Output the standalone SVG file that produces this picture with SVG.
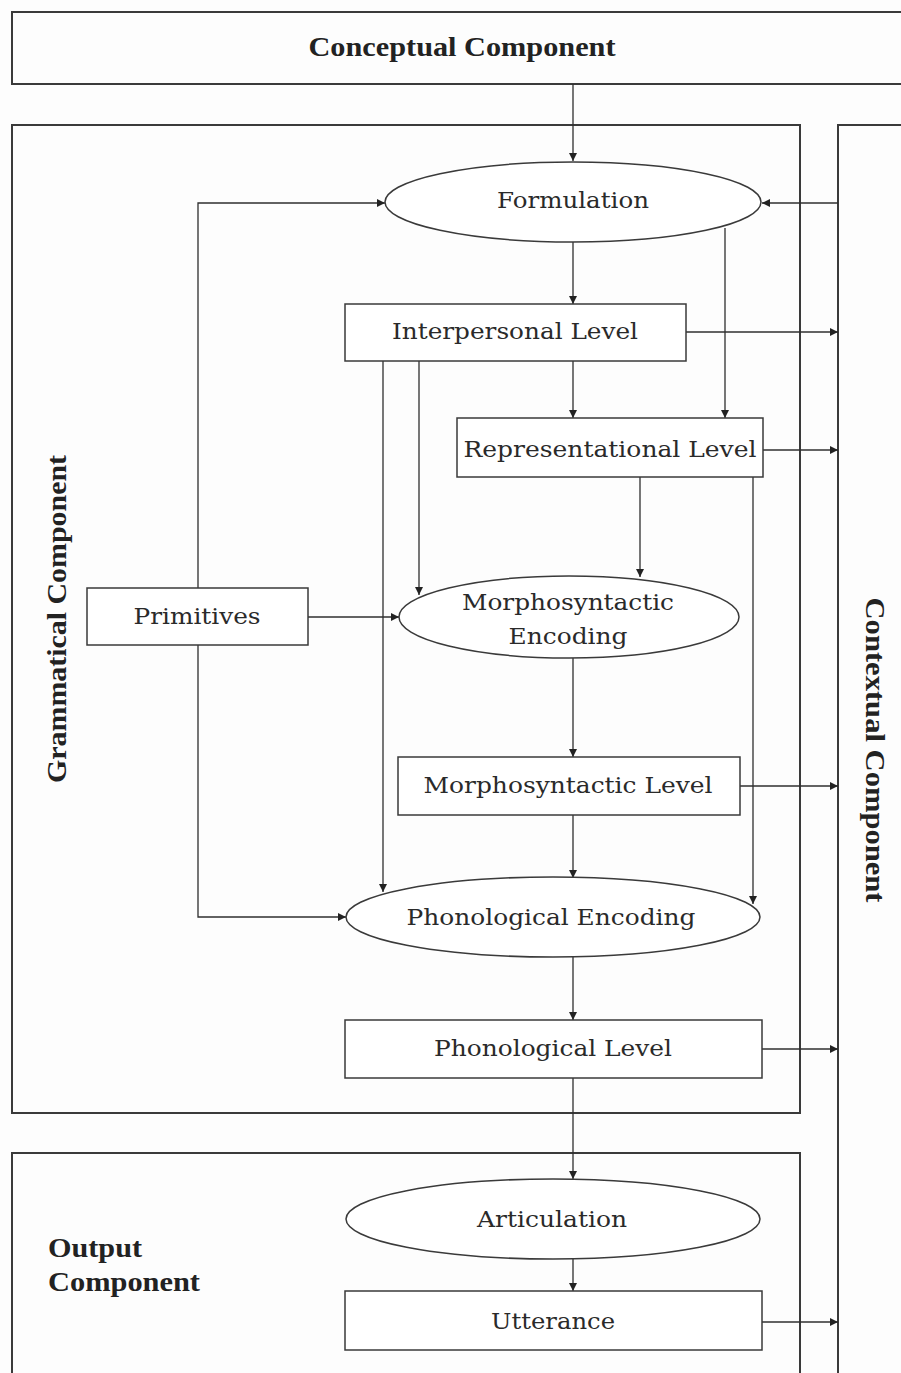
<svg xmlns="http://www.w3.org/2000/svg" width="901" height="1373" viewBox="0 0 901 1373">
<style>
  .comp { fill: none; stroke: #3a3a3a; stroke-width: 2; }
  .node { fill: #ffffff; stroke: #3a3a3a; stroke-width: 1.5; }
  .conn { fill: none; stroke: #2f2f2f; stroke-width: 1.3; }
  .lbl { font-family: "DejaVu Serif", "Liberation Serif", serif; font-size: 23px; fill: #2a2a2a; text-anchor: middle; }
  .blbl { font-family: "Liberation Serif", "DejaVu Serif", serif; font-size: 27px; font-weight: bold; fill: #222; }
</style>
<defs>
  <marker id="arr" viewBox="0 0 10 10" refX="10" refY="5" markerWidth="9" markerHeight="8" markerUnits="userSpaceOnUse" orient="auto">
    <path d="M0,0 L10,5 L0,10 z" fill="#222"/>
  </marker>
</defs>
<rect width="901" height="1373" fill="#fdfdfd"/>

<g id="conceptual">
  <rect class="comp" x="12" y="12" width="900" height="72"/>
  <text class="blbl" x="462" y="56" text-anchor="middle" textLength="307" lengthAdjust="spacingAndGlyphs">Conceptual Component</text>
</g>
<g id="grammatical">
  <rect class="comp" x="12" y="125" width="788" height="988"/>
  <text class="blbl" transform="translate(66,619) rotate(-90)" x="0" y="0" text-anchor="middle" textLength="328" lengthAdjust="spacingAndGlyphs">Grammatical Component</text>
</g>
<g id="contextual">
  <rect class="comp" x="838" y="125" width="80" height="1270"/>
  <text class="blbl" transform="translate(866,750) rotate(90)" x="0" y="0" text-anchor="middle" textLength="305" lengthAdjust="spacingAndGlyphs">Contextual Component</text>
</g>
<g id="output">
  <rect class="comp" x="12" y="1153" width="788" height="240"/>
  <text class="blbl" x="48" y="1257" textLength="94" lengthAdjust="spacingAndGlyphs">Output</text>
  <text class="blbl" x="48" y="1291" textLength="152" lengthAdjust="spacingAndGlyphs">Component</text>
</g>

<g id="connectors">
  <line class="conn" x1="573" y1="84" x2="573" y2="161" marker-end="url(#arr)"/>
  <line class="conn" x1="838" y1="203" x2="762" y2="203" marker-end="url(#arr)"/>
  <polyline class="conn" points="198,588 198,203 385,203" marker-end="url(#arr)"/>
  <line class="conn" x1="573" y1="242" x2="573" y2="304" marker-end="url(#arr)"/>
  <line class="conn" x1="725" y1="228" x2="725" y2="418" marker-end="url(#arr)"/>
  <line class="conn" x1="686" y1="332" x2="838" y2="332" marker-end="url(#arr)"/>
  <line class="conn" x1="573" y1="361" x2="573" y2="418" marker-end="url(#arr)"/>
  <line class="conn" x1="763" y1="450" x2="838" y2="450" marker-end="url(#arr)"/>
  <line class="conn" x1="383" y1="361" x2="383" y2="892" marker-end="url(#arr)"/>
  <line class="conn" x1="419" y1="361" x2="419" y2="595" marker-end="url(#arr)"/>
  <line class="conn" x1="640" y1="477" x2="640" y2="577" marker-end="url(#arr)"/>
  <line class="conn" x1="753" y1="477" x2="753" y2="904" marker-end="url(#arr)"/>
  <line class="conn" x1="308" y1="617" x2="399" y2="617" marker-end="url(#arr)"/>
  <polyline class="conn" points="198,645 198,917 346,917" marker-end="url(#arr)"/>
  <line class="conn" x1="573" y1="658" x2="573" y2="757" marker-end="url(#arr)"/>
  <line class="conn" x1="740" y1="786" x2="838" y2="786" marker-end="url(#arr)"/>
  <line class="conn" x1="573" y1="815" x2="573" y2="878" marker-end="url(#arr)"/>
  <line class="conn" x1="573" y1="957" x2="573" y2="1020" marker-end="url(#arr)"/>
  <line class="conn" x1="762" y1="1049" x2="838" y2="1049" marker-end="url(#arr)"/>
  <line class="conn" x1="573" y1="1078" x2="573" y2="1179" marker-end="url(#arr)"/>
  <line class="conn" x1="573" y1="1259" x2="573" y2="1291" marker-end="url(#arr)"/>
  <line class="conn" x1="762" y1="1322" x2="838" y2="1322" marker-end="url(#arr)"/>
</g>

<g id="formulation">
  <ellipse class="node" cx="573" cy="202" rx="188" ry="40"/>
  <text class="lbl" x="573" y="208" textLength="152" lengthAdjust="spacingAndGlyphs">Formulation</text>
</g>
<g id="interpersonal">
  <rect class="node" x="345" y="304" width="341" height="57"/>
  <text class="lbl" x="515" y="339" textLength="246" lengthAdjust="spacingAndGlyphs">Interpersonal Level</text>
</g>
<g id="representational">
  <rect class="node" x="457" y="418" width="306" height="59"/>
  <text class="lbl" x="610" y="457" textLength="293" lengthAdjust="spacingAndGlyphs">Representational Level</text>
</g>
<g id="primitives">
  <rect class="node" x="87" y="588" width="221" height="57"/>
  <text class="lbl" x="197" y="624" textLength="127" lengthAdjust="spacingAndGlyphs">Primitives</text>
</g>
<g id="morph-encoding">
  <ellipse class="node" cx="569" cy="617" rx="170" ry="41"/>
  <text class="lbl" x="568" y="610" textLength="212" lengthAdjust="spacingAndGlyphs">Morphosyntactic</text>
  <text class="lbl" x="568" y="644" textLength="119" lengthAdjust="spacingAndGlyphs">Encoding</text>
</g>
<g id="morph-level">
  <rect class="node" x="398" y="757" width="342" height="58"/>
  <text class="lbl" x="568" y="793" textLength="289" lengthAdjust="spacingAndGlyphs">Morphosyntactic Level</text>
</g>
<g id="phon-encoding">
  <ellipse class="node" cx="553" cy="917" rx="207" ry="40"/>
  <text class="lbl" x="551" y="925" textLength="289" lengthAdjust="spacingAndGlyphs">Phonological Encoding</text>
</g>
<g id="phon-level">
  <rect class="node" x="345" y="1020" width="417" height="58"/>
  <text class="lbl" x="553" y="1056" textLength="238" lengthAdjust="spacingAndGlyphs">Phonological Level</text>
</g>
<g id="articulation">
  <ellipse class="node" cx="553" cy="1219" rx="207" ry="40"/>
  <text class="lbl" x="552" y="1227" textLength="150" lengthAdjust="spacingAndGlyphs">Articulation</text>
</g>
<g id="utterance">
  <rect class="node" x="345" y="1291" width="417" height="59"/>
  <text class="lbl" x="553" y="1329" textLength="124" lengthAdjust="spacingAndGlyphs">Utterance</text>
</g>
</svg>
